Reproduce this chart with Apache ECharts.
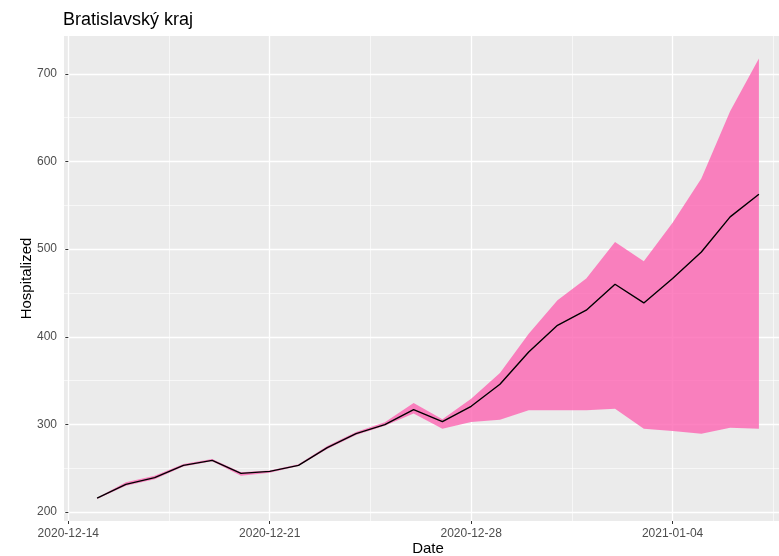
<!DOCTYPE html>
<html>
<head>
<meta charset="utf-8">
<script src="https://cdn.jsdelivr.net/npm/echarts@6/dist/echarts.min.js"></script>
<style>
  html, body { margin: 0; padding: 0; background: #fff; }
  #main { width: 779px; height: 556px; }
</style>
</head>
<body>
<div id="main"></div>
<script>
// dates of the forecast (one point per day)
const dates = [
  '2020-12-15', '2020-12-16', '2020-12-17', '2020-12-18', '2020-12-19', '2020-12-20',
  '2020-12-21', '2020-12-22', '2020-12-23', '2020-12-24', '2020-12-25', '2020-12-26',
  '2020-12-27', '2020-12-28', '2020-12-29', '2020-12-30', '2020-12-31', '2021-01-01',
  '2021-01-02', '2021-01-03', '2021-01-04', '2021-01-05', '2021-01-06', '2021-01-07'
];
const median = [216, 231.6, 239.3, 253.3, 259, 244.2, 246.5, 253.3, 273.5, 289.5, 299.8, 316.9,
  303.2, 320.7, 345.8, 382.6, 413.1, 430.3, 459.9, 438.6, 466.4, 496.8, 536.8, 562.7];
const upper = [216.5, 234, 241.5, 255, 260.5, 245.5, 247.5, 254.5, 275.5, 291.5, 302.5, 324.5,
  306, 329.4, 358.7, 403.6, 441.7, 466.4, 508.2, 486.2, 530, 580.6, 657.3, 717.6];
const lower = [215, 230, 237.5, 252, 258, 241.5, 245, 252.5, 272, 288, 298.5, 312.5,
  295, 302.7, 305.5, 316.1, 316.1, 316.1, 318, 295.2, 292.5, 289.5, 296.3, 295.2];

// axis breaks
const xTickLabels = ['2020-12-14', '2020-12-21', '2020-12-28', '2021-01-04'];
const xMinorDates = ['2020-12-17T12:00:00Z', '2020-12-24T12:00:00Z', '2020-12-31T12:00:00Z', '2021-01-07T12:00:00Z'];
const yTicks = [200, 300, 400, 500, 600, 700];
const yMinor = [250, 350, 450, 550, 650];

// x is days since the first break
const DAY = 86400000;
const origin = Date.parse(xTickLabels[0] + 'T00:00:00Z');
const toDay = s => (Date.parse(s.length > 10 ? s : s + 'T00:00:00Z') - origin) / DAY;
const xs = dates.map(toDay);
const xMajor = xTickLabels.map(toDay);
const xMinor = xMinorDates.map(toDay);

const font = 'Liberation Sans, Arial, sans-serif';
const chart = echarts.init(document.getElementById('main'));

chart.setOption({
  animation: false,
  title: {
    text: 'Bratislavský kraj',
    left: 63, top: 11, padding: 0,
    textStyle: { color: '#000', fontSize: 18, fontWeight: 'normal', fontFamily: font }
  },
  grid: {
    left: 64, width: 728, top: 36, bottom: 35,
    outerBoundsMode: 'none', containLabel: false,
    show: true, backgroundColor: '#EBEBEB', borderWidth: 0
  },
  xAxis: [
    {
      type: 'value', min: -0.15, max: 25.15,
      name: 'Date', nameLocation: 'middle', nameGap: 20, nameMoveOverlap: false,
      nameTextStyle: { color: '#000', fontSize: 15, fontFamily: font },
      axisLine: { show: false },
      axisTick: { show: true, length: 3, customValues: xMajor, lineStyle: { color: '#333', width: 1 } },
      axisLabel: {
        customValues: xMajor, margin: 7, color: '#4D4D4D', fontSize: 12, fontFamily: font,
        formatter: v => xTickLabels[xMajor.indexOf(v)] || ''
      },
      splitLine: { show: true, lineStyle: { color: '#fff', width: 1.3 } }
    },
    {
      type: 'value', min: -0.15, max: 25.15, position: 'bottom',
      axisLine: { show: false },
      axisTick: { show: false, customValues: xMinor },
      axisLabel: { show: false },
      splitLine: { show: true, lineStyle: { color: '#fff', width: 0.6 } }
    }
  ],
  yAxis: [
    {
      type: 'value', min: 189.85, max: 743.15,
      name: 'Hospitalized', nameLocation: 'middle', nameGap: 30, nameMoveOverlap: false,
      nameTextStyle: { color: '#000', fontSize: 15, fontFamily: font },
      axisLine: { show: false },
      axisTick: { show: true, length: 3, customValues: yTicks, lineStyle: { color: '#333', width: 1 } },
      axisLabel: { customValues: yTicks, margin: 7, color: '#4D4D4D', fontSize: 12, fontFamily: font },
      splitLine: { show: true, lineStyle: { color: '#fff', width: 1.3 } }
    },
    {
      type: 'value', min: 189.85, max: 743.15, position: 'left',
      axisLine: { show: false },
      axisTick: { show: false, customValues: yMinor },
      axisLabel: { show: false },
      splitLine: { show: true, lineStyle: { color: '#fff', width: 0.6 } }
    }
  ],
  series: [
    {
      // prediction interval as one polygon: upper edge, then lower edge backwards
      type: 'custom', silent: true, z: 2,
      data: [0],
      renderItem: (params, api) => {
        const pts = [];
        xs.forEach((x, i) => pts.push(api.coord([x, upper[i]])));
        for (let i = xs.length - 1; i >= 0; i--) pts.push(api.coord([xs[i], lower[i]]));
        return {
          type: 'polygon',
          shape: { points: pts },
          style: { fill: 'rgba(252,100,178,0.8)', stroke: 'none' }
        };
      }
    },
    {
      type: 'line', symbol: 'none', silent: true, z: 5,
      lineStyle: { color: '#000', width: 1.4 },
      data: xs.map((x, i) => [x, median[i]])
    }
  ]
});
</script>
</body>
</html>
